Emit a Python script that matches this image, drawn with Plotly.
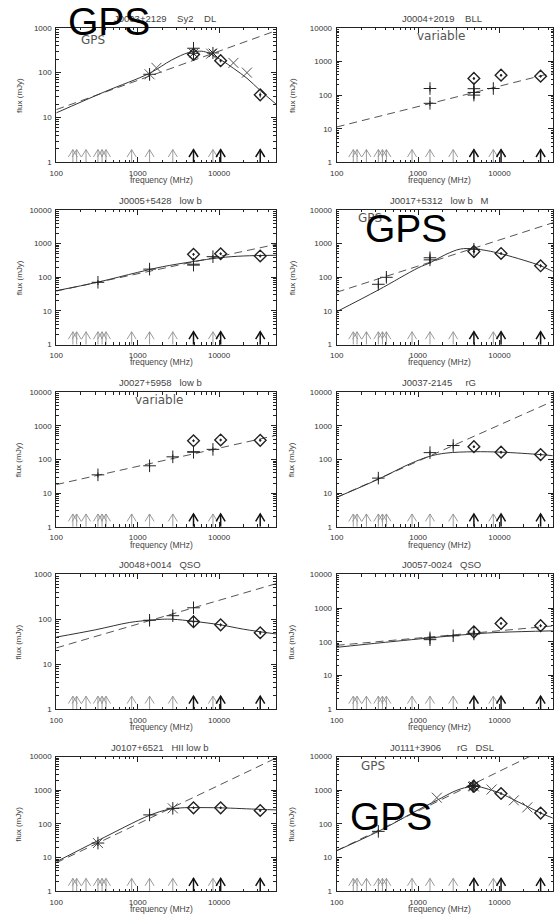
import math
import plotly.graph_objects as go

FIG_W, FIG_H = 554, 920

# Survey frequencies marked along the bottom of every panel (MHz)
SURVEY_MHZ = [160, 178, 232, 325, 365, 408, 843, 1400, 2700, 4850, 8400, 10450, 32000]
OWN_MHZ = [4850, 10450, 32000]          # own measurements, drawn heavier

# ---------------- J0003+2129 ----------------
J0003_FIT = [(100, 12.7), (400, 38), (1400, 97), (2600, 190), (4200, 280), (5500, 300),
             (6800, 290), (10450, 195), (15000, 125), (22000, 75), (32000, 40), (50000, 20)]
J0003_PL = [(100, 15), (50000, 860)]
J0003_PLUS = [(1400, 92, 25), (4850, 350, 110)]
J0003_DIAM = [(4850, 255, 20), (10450, 185, 15), (32000, 32, 4)]
J0003_CROSS = [(1400, 92), (1700, 128), (8000, 265), (15000, 165), (22000, 100)]
J0003_STAR = [(4850, 270), (8400, 275)]

# ---------------- J0004+2019 ----------------
J0004_PL = [(100, 11.3), (50000, 490)]
J0004_PLUS = [(1400, 157, 30), (1400, 57, 10), (4850, 155, 50), (4850, 120, 20),
              (4850, 100, 25), (8400, 157, 20)]
J0004_DIAM = [(4850, 313, 25), (10450, 390, 30), (32000, 365, 30)]

# ---------------- J0005+5428 ----------------
J0005_FIT = [(100, 40), (325, 72), (1000, 140), (2000, 205), (4850, 295), (10000, 380),
             (20000, 430), (50000, 450)]
J0005_PL = [(100, 39), (50000, 950)]
J0005_PLUS = [(325, 71, 12), (1400, 175, 30), (4850, 245, 75), (4850, 230, 25), (8400, 410, 50)]
J0005_DIAM = [(4850, 480, 40), (10450, 500, 40), (32000, 430, 40)]

# ---------------- J0017+5312 ----------------
J0017_FIT = [(100, 9.5), (325, 42), (1000, 190), (1400, 270), (2200, 480), (3300, 690),
             (4850, 700), (7000, 620), (10450, 500), (20000, 320), (32000, 220), (45000, 150)]
J0017_PL = [(100, 36), (50000, 4500)]
J0017_PLUS = [(325, 62, 15), (408, 100, 25), (1400, 380, 60), (1400, 330, 40), (4850, 680, 150)]
J0017_DIAM = [(4850, 580, 50), (10450, 510, 40), (32000, 220, 25)]

# ---------------- J0027+5958 ----------------
J0027_PL = [(100, 18), (50000, 520)]
J0027_PLUS = [(325, 35, 6), (1400, 65, 10), (2700, 120, 20), (4850, 170, 25), (4850, 165, 15),
              (8400, 200, 30)]
J0027_DIAM = [(4850, 360, 30), (10450, 380, 30), (32000, 370, 30)]

# ---------------- J0037-2145 ----------------
J0037_FIT = [(100, 7.5), (325, 26), (800, 75), (1400, 125), (2200, 155), (4850, 170),
             (10450, 165), (32000, 140), (45000, 130)]
J0037_PL = [(100, 7.5), (50000, 6000)]
J0037_PLUS = [(325, 28, 5), (1400, 160, 25), (2700, 260, 50)]
J0037_DIAM = [(4850, 240, 20), (10450, 165, 15), (32000, 140, 15)]

# ---------------- J0048+0014 ----------------
J0048_FIT = [(100, 40), (300, 58), (800, 85), (1400, 95), (2000, 100), (2700, 100),
             (4850, 90), (10450, 75), (20000, 60), (50000, 47)]
J0048_PL = [(100, 23), (50000, 620)]
J0048_PLUS = [(1400, 95, 18), (2700, 120, 20), (4850, 180, 40), (4850, 90, 25)]
J0048_DIAM = [(4850, 88, 10), (10450, 75, 6), (32000, 50, 5)]

# ---------------- J0057-0024 ----------------
J0057_FIT = [(100, 68), (1000, 120), (4850, 170), (10450, 190), (45000, 210)]
J0057_PL = [(100, 78), (50000, 300)]
J0057_PLUS = [(1400, 130, 15), (1400, 115, 12), (2700, 150, 20), (4850, 170, 25)]
J0057_DIAM = [(4850, 195, 20), (10450, 350, 30), (32000, 300, 30)]

# ---------------- J0107+6521 ----------------
J0107_FIT = [(100, 7.5), (325, 32), (1400, 180), (2400, 270), (3500, 300), (4850, 305),
             (10450, 300), (32000, 270), (50000, 260)]
J0107_PL = [(100, 7), (50000, 9000)]
J0107_PLUS = [(325, 27, 5), (1400, 185, 35), (2700, 290, 40)]
J0107_CROSS = [(325, 27), (2700, 290)]
J0107_DIAM = [(4850, 300, 20), (10450, 300, 20), (32000, 250, 20)]

# ---------------- J0111+3906 ----------------
J0111_FIT = [(100, 16), (325, 60), (1000, 260), (1700, 500), (3000, 1000), (4500, 1300),
             (5500, 1280), (8000, 1000), (10450, 800), (15000, 520), (22000, 330),
             (32000, 210), (45000, 150)]
J0111_PL = [(100, 16), (50000, 24500)]
J0111_PLUS = [(325, 60, 10), (4850, 1350, 100)]
J0111_CROSS = [(1700, 600), (4850, 1300), (8000, 1050), (15000, 500), (22000, 310)]
J0111_STAR = [(4850, 1350), (4650, 1300)]
J0111_DIAM = [(4850, 1300, 50), (10450, 800, 50), (32000, 210, 20)]

NBSP = "\u00a0"


def gap(n):
    return NBSP * n


PANELS = [
    dict(title="J0003+2129" + gap(4) + "Sy2" + gap(4) + "DL", tx=107, ymax=1000,
         fit=J0003_FIT, pl=J0003_PL, plus=J0003_PLUS, diam=J0003_DIAM,
         cross=J0003_CROSS, star=J0003_STAR, note=("GPS", 87, 36), big=(104, 18)),
    dict(title="J0004+2019" + gap(4) + "BLL", tx=122, ymax=10000,
         pl=J0004_PL, plus=J0004_PLUS, diam=J0004_DIAM, note=("variable", 163, 32)),
    dict(title="J0005+5428" + gap(3) + "low b", tx=112, ymax=10000,
         fit=J0005_FIT, pl=J0005_PL, plus=J0005_PLUS, diam=J0005_DIAM),
    dict(title="J0017+5312" + gap(3) + "low b" + gap(3) + "M", tx=110, ymax=10000,
         fit=J0017_FIT, pl=J0017_PL, plus=J0017_PLUS, diam=J0017_DIAM,
         note=("GPS", 91, 32), big=(128, 43)),
    dict(title="J0027+5958" + gap(3) + "low b", tx=112, ymax=10000,
         pl=J0027_PL, plus=J0027_PLUS, diam=J0027_DIAM, note=("variable", 154, 32)),
    dict(title="J0037-2145" + gap(5) + "rG", tx=122, ymax=10000,
         fit=J0037_FIT, pl=J0037_PL, plus=J0037_PLUS, diam=J0037_DIAM),
    dict(title="J0048+0014" + gap(3) + "QSO", tx=112, ymax=1000,
         fit=J0048_FIT, pl=J0048_PL, plus=J0048_PLUS, diam=J0048_DIAM),
    dict(title="J0057-0024" + gap(3) + "QSO", tx=122, ymax=10000,
         fit=J0057_FIT, pl=J0057_PL, plus=J0057_PLUS, diam=J0057_DIAM),
    dict(title="J0107+6521" + gap(3) + "HII low b", tx=103, ymax=10000,
         fit=J0107_FIT, pl=J0107_PL, plus=J0107_PLUS, diam=J0107_DIAM, cross=J0107_CROSS),
    dict(title="J0111+3906" + gap(6) + "rG" + gap(3) + "DSL", tx=110, ymax=10000,
         fit=J0111_FIT, pl=J0111_PL, plus=J0111_PLUS, diam=J0111_DIAM,
         cross=J0111_CROSS, star=J0111_STAR, note=("GPS", 94, 34), big=(113, 85)),
]

# panel geometry in pixels
CELL_W, CELL_H = 277, 184
PLOT_L = [50, 57.5]          # left edge of plot box inside the cell (left / right column)
PLOT_TOP, PLOT_BOT = 24, 160
PX_PER_DEC = 82.6
ARROW_LEN, HEAD_H, HEAD_HW = 13.0, 7.5, 4.6   # survey arrow size (px)

FONT = "Liberation Sans, Arial, sans-serif"
NOTE_FONT = "DejaVu Sans, sans-serif"
INK = "#222222"
GREY = "#555555"

fig = go.Figure()
annotations = []
layout = {}


def px_x(x):
    return x / FIG_W


def px_y(y):
    return 1 - y / FIG_H


def arrow_path(freqs, ymax_log):
    """Open-headed arrows standing on the bottom axis, one per frequency."""
    ppd_y = (PLOT_BOT - PLOT_TOP) / ymax_log
    tip = 10 ** (ARROW_LEN / ppd_y)
    shoulder = 10 ** ((ARROW_LEN - HEAD_H) / ppd_y)
    dx = 10 ** (HEAD_HW / PX_PER_DEC)
    xs, ys = [], []
    for f in freqs:
        xs += [f, f, None, f / dx, f, f * dx, None]
        ys += [1, tip, None, shoulder, tip, shoulder, None]
    return xs, ys


for i, p in enumerate(PANELS):
    n = i + 1
    col, row = i % 2, i // 2
    cx0, cy0 = col * CELL_W, row * CELL_H
    x0 = cx0 + PLOT_L[col]
    x1 = min(x0 + PX_PER_DEC * math.log10(50000 / 100), FIG_W)
    xmax_log = 2 + (x1 - x0) / PX_PER_DEC
    y0, y1 = cy0 + PLOT_TOP, cy0 + PLOT_BOT
    ymax_log = math.log10(p["ymax"])

    suffix = "" if n == 1 else str(n)
    xa, ya = "x" + suffix, "y" + suffix
    xkey, ykey = "xaxis" + suffix, "yaxis" + suffix

    x_minor = [k * 10 ** d for d in range(2, 5) for k in range(2, 10) if k * 10 ** d <= 10 ** xmax_log]
    y_minor = [k * 10 ** d for d in range(0, int(ymax_log)) for k in range(2, 10)]
    y_major = [10 ** d for d in range(0, int(ymax_log) + 1)]

    common = dict(type="log", showline=True, linecolor=INK, linewidth=1, mirror="ticks",
                  ticks="inside", ticklen=5, tickwidth=1, tickcolor=INK, showgrid=False,
                  zeroline=False, tickfont=dict(family=FONT, size=8, color="#333333"),
                  tickmode="array")
    layout[xkey] = dict(common, domain=[px_x(x0), px_x(x1)], range=[2, xmax_log], anchor=ya,
                        tickvals=[100, 1000, 10000], ticktext=["100", "1000", "10000"],
                        minor=dict(tickmode="array", tickvals=x_minor, ticks="inside",
                                   ticklen=2.5, tickcolor=INK, tickwidth=1),
                        ticklabelstandoff=3)
    layout[ykey] = dict(common, domain=[px_y(y1), px_y(y0)], range=[0, ymax_log], anchor=xa,
                        tickvals=y_major, ticktext=[str(v) for v in y_major],
                        minor=dict(tickmode="array", tickvals=y_minor, ticks="inside",
                                   ticklen=2.5, tickcolor=INK, tickwidth=1),
                        ticklabelstandoff=2)

    # survey frequency arrows along the bottom
    light = [f for f in SURVEY_MHZ if f not in OWN_MHZ]
    ax_, ay_ = arrow_path(light, ymax_log)
    fig.add_trace(go.Scatter(x=ax_, y=ay_, mode="lines", line=dict(color="#8f8f8f", width=0.9),
                             xaxis=xa, yaxis=ya, hoverinfo="skip", cliponaxis=False))
    ax_, ay_ = arrow_path(OWN_MHZ, ymax_log)
    fig.add_trace(go.Scatter(x=ax_, y=ay_, mode="lines", line=dict(color="#111111", width=1.5),
                             xaxis=xa, yaxis=ya, hoverinfo="skip", cliponaxis=False))

    # power law (dashed)
    fig.add_trace(go.Scatter(x=[a for a, _ in p["pl"]], y=[b for _, b in p["pl"]],
                             mode="lines", line=dict(color=GREY, width=1, dash="8px,5px"),
                             xaxis=xa, yaxis=ya, hoverinfo="skip"))
    # fitted spectrum (solid)
    if "fit" in p:
        fig.add_trace(go.Scatter(x=[a for a, _ in p["fit"]], y=[b for _, b in p["fit"]],
                                 mode="lines", line=dict(color="#333333", width=1, shape="spline",
                                                         smoothing=1.0),
                                 xaxis=xa, yaxis=ya, hoverinfo="skip"))
    if "cross" in p:
        fig.add_trace(go.Scatter(x=[a for a, _ in p["cross"]], y=[b for _, b in p["cross"]],
                                 mode="markers",
                                 marker=dict(symbol="x-thin", size=10, color=GREY,
                                             line=dict(width=1, color=GREY)),
                                 xaxis=xa, yaxis=ya))
    if "star" in p:
        fig.add_trace(go.Scatter(x=[a for a, _ in p["star"]], y=[b for _, b in p["star"]],
                                 mode="markers",
                                 marker=dict(symbol="asterisk", size=10, color=INK,
                                             line=dict(width=1, color=INK)),
                                 xaxis=xa, yaxis=ya))
    fig.add_trace(go.Scatter(x=[a for a, _, _ in p["plus"]], y=[b for _, b, _ in p["plus"]],
                             mode="markers",
                             error_y=dict(type="data", array=[e for _, _, e in p["plus"]],
                                          width=0, thickness=1, color=INK),
                             marker=dict(symbol="cross-thin", size=9, color=INK,
                                         line=dict(width=1, color=INK)),
                             xaxis=xa, yaxis=ya))
    fig.add_trace(go.Scatter(x=[a for a, _, _ in p["diam"]], y=[b for _, b, _ in p["diam"]],
                             mode="markers",
                             error_y=dict(type="data", array=[e for _, _, e in p["diam"]],
                                          width=0, thickness=1, color=INK),
                             marker=dict(symbol="diamond-open-dot", size=9, color=INK,
                                         line=dict(width=1.4, color=INK)),
                             xaxis=xa, yaxis=ya))

    # title
    annotations.append(dict(x=px_x(cx0 + p["tx"]), y=px_y(cy0 + 14.5), xref="paper", yref="paper",
                            text=p["title"], showarrow=False, xanchor="left", yanchor="middle",
                            font=dict(family=FONT, size=9.5, color="#444444")))
    # axis titles
    annotations.append(dict(x=px_x(cx0 + 12), y=px_y((y0 + y1) / 2), xref="paper", yref="paper",
                            text="flux (mJy)", textangle=-90, showarrow=False,
                            xanchor="center", yanchor="middle",
                            font=dict(family=FONT, size=8, color="#444444")))
    annotations.append(dict(x=px_x(cx0 + (157 if col == 0 else 162)), y=px_y(cy0 + 178),
                            xref="paper", yref="paper", text="frequency (MHz)", showarrow=False,
                            xanchor="center", yanchor="middle",
                            font=dict(family=FONT, size=8.5, color="#444444")))
    if "note" in p:
        txt, nx, ny = p["note"]
        annotations.append(dict(x=px_x(cx0 + nx), y=px_y(cy0 + ny), xref="paper", yref="paper",
                                text=txt, showarrow=False, xanchor="center", yanchor="middle",
                                font=dict(family=NOTE_FONT, size=12, color="#555555")))
    if "big" in p:
        bx, by = p["big"]
        annotations.append(dict(x=px_x(cx0 + bx), y=px_y(cy0 + by),
                                xref="paper", yref="paper", text="GPS", showarrow=False,
                                xanchor="center", yanchor="middle",
                                font=dict(family=FONT, size=39, color="#000000")))

fig.update_layout(width=FIG_W, height=FIG_H, margin=dict(l=0, r=0, t=0, b=0),
                  paper_bgcolor="white", plot_bgcolor="white", showlegend=False,
                  annotations=annotations, **layout)

fig.write_html("out.html")
